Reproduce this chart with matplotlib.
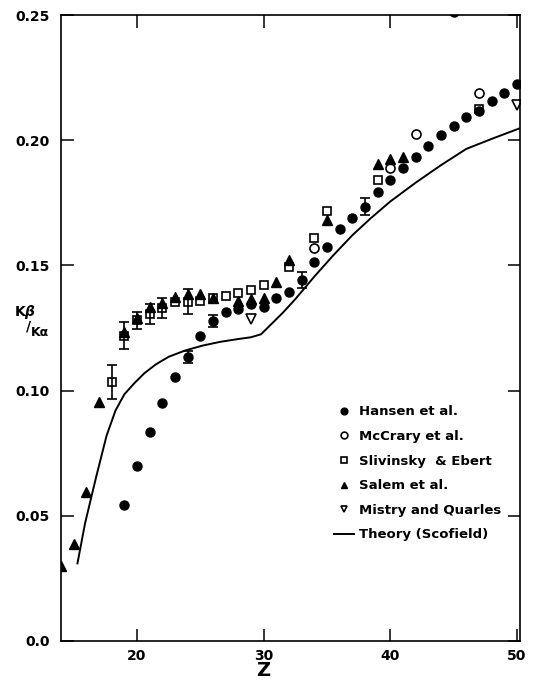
"""Kβ/Kα intensity ratio vs atomic number Z: measurements and Scofield theory."""

import numpy as np
import matplotlib
matplotlib.use("Agg")
import matplotlib.pyplot as plt

# --- data ------------------------------------------------------------------
hansen_z = [19, 20, 21, 22, 23, 24, 25, 26, 27, 28, 29, 30, 31, 32, 33, 34,
            35, 36, 37, 38, 39, 40, 41, 42, 43, 44, 45, 46, 47, 48, 49, 50, 45]
hansen_r = [0.0545, 0.0698, 0.0833, 0.0950, 0.1054, 0.1135, 0.1220, 0.1278,
            0.1314, 0.1325, 0.1345, 0.1335, 0.1371, 0.1395, 0.1440, 0.1515,
            0.1575, 0.1644, 0.1688, 0.1735, 0.1794, 0.1841, 0.1887, 0.1934,
            0.1978, 0.2021, 0.2057, 0.2091, 0.2117, 0.2157, 0.2187, 0.2224,
            0.2512]
hansen_err_z = [24, 26, 33, 38]
hansen_err = [0.0025, 0.0025, 0.0032, 0.0035]

mccrary_z = [34, 40, 42, 47]
mccrary_r = [0.1568, 0.1890, 0.2025, 0.2190]

slivinsky_z = [18, 19, 20, 21, 22, 23, 24, 25, 26, 27, 28, 29, 30, 32, 34,
               35, 39, 47]
slivinsky_r = [0.1036, 0.1220, 0.1280, 0.1306, 0.1328, 0.1355, 0.1355,
               0.1358, 0.1370, 0.1378, 0.1390, 0.1402, 0.1422, 0.1495,
               0.1608, 0.1717, 0.1843, 0.2125]
slivinsky_err_z = [18, 19, 20, 21, 22, 24]
slivinsky_err = [0.0068, 0.0055, 0.0035, 0.0040, 0.0040, 0.0050]

salem_z = [14, 15, 16, 17, 19, 20, 21, 22, 23, 24, 25, 26, 28, 29, 30, 31,
           32, 35, 39, 40, 41]
salem_r = [0.0300, 0.0386, 0.0596, 0.0953, 0.1235, 0.1290, 0.1333, 0.1350,
           0.1375, 0.1384, 0.1384, 0.1370, 0.1357, 0.1365, 0.1370, 0.1432,
           0.1520, 0.1680, 0.1905, 0.1923, 0.1934]

mistry_z = [29, 50]
mistry_r = [0.1286, 0.2140]

theory_z = [15.3, 15.9, 16.8, 17.6, 18.3, 19.0, 19.8, 20.6, 21.5, 22.5, 23.8,
            25.2, 26.6, 28.0, 29.0, 29.8, 30.5, 31.5, 32.5, 34.0, 35.5, 37.0,
            38.5, 40.0, 42.0, 44.0, 46.0, 48.0, 50.2]
theory_r = [0.031, 0.047, 0.066, 0.082, 0.092, 0.0985, 0.1030, 0.1070,
            0.1105, 0.1135, 0.1160, 0.1180, 0.1195, 0.1206, 0.1213, 0.1225,
            0.126, 0.131, 0.1365, 0.1455, 0.154, 0.162, 0.169, 0.1755, 0.183,
            0.190, 0.1965, 0.2005, 0.2047]

x_ticks = [20, 30, 40, 50]
y_ticks = [0.0, 0.05, 0.10, 0.15, 0.20, 0.25]
y_ticklabels = ["0.0", "0.05", "0.10", "0.15", "0.20", "0.25"]

# --- figure -----------------------------------------------------------------
plt.rcParams["font.family"] = ["DejaVu Sans"]
plt.rcParams["font.weight"] = "bold"

fig = plt.figure(figsize=(5.34, 6.83), dpi=100)
ax = fig.add_axes([61 / 534, 42 / 683, 459 / 534, 626 / 683])

ms = 6.5
ax.plot(hansen_z, hansen_r, ls="none", marker="o", ms=ms, mfc="black",
        mec="black", label="Hansen et al.")
ax.plot(mccrary_z, mccrary_r, ls="none", marker="o", ms=ms, mfc="none",
        mec="black", mew=1.2, label="McCrary et al.")
ax.plot(slivinsky_z, slivinsky_r, ls="none", marker="s", ms=6, mfc="none",
        mec="black", mew=1.2, label="Slivinsky  & Ebert")
ax.plot(salem_z, salem_r, ls="none", marker="^", ms=ms, mfc="black",
        mec="black", label="Salem et al.")
ax.plot(mistry_z, mistry_r, ls="none", marker="v", ms=ms, mfc="none",
        mec="black", mew=1.2, label="Mistry and Quarles")
ax.plot(theory_z, theory_r, color="black", lw=1.4, label="Theory (Scofield)")

# error bars
h_lookup = dict(zip(hansen_z, hansen_r))
s_lookup = dict(zip(slivinsky_z, slivinsky_r))
ax.errorbar(hansen_err_z, [h_lookup[z] for z in hansen_err_z], yerr=hansen_err,
            fmt="none", ecolor="black", elinewidth=1.2, capsize=3.5, capthick=1.2)
ax.errorbar(slivinsky_err_z, [s_lookup[z] for z in slivinsky_err_z],
            yerr=slivinsky_err, fmt="none", ecolor="black", elinewidth=1.2,
            capsize=3.5, capthick=1.2)

ax.set_xlim(14, 50.25)
ax.set_ylim(0, 0.25)
ax.set_xticks(x_ticks)
ax.set_yticks(y_ticks)
ax.set_yticklabels(y_ticklabels)
ax.tick_params(direction="in", length=9, width=1.1, top=True, right=True,
               labelsize=10)
ax.tick_params(axis="x", pad=6)
ax.tick_params(axis="y", pad=8)
for s in ax.spines.values():
    s.set_linewidth(1.2)

# axis label "Z" placed under the 30 tick
fig.text(263 / 534, 1 - 671 / 683, "Z", fontsize=14, ha="center", va="center")

# y label drawn as Kβ / Kα
fig.text(14 / 534, 1 - 316 / 683, r"K$\beta$", fontsize=10, ha="left",
         va="baseline")
fig.text(26 / 534, 1 - 331 / 683, "/", fontsize=10, ha="left", va="baseline")
fig.text(31 / 534, 1 - 336 / 683, "Kα", fontsize=9, ha="left", va="baseline")

ax.legend(loc="upper left", bbox_to_anchor=(0.58, 0.387), frameon=False,
          fontsize=9.5, labelspacing=0.88, handlelength=1.5, handletextpad=0.4,
          markerscale=0.75, borderpad=0)

fig.savefig("out.png", dpi=100)
